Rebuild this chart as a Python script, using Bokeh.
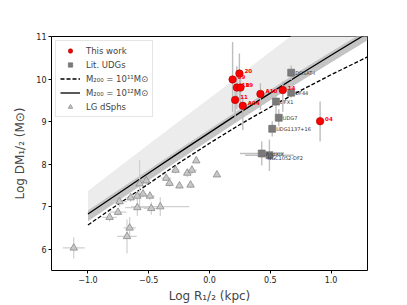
from bokeh.plotting import figure
from bokeh.models import (ColumnDataSource, Legend, LegendItem, FixedTicker,
                          CustomJSTickFormatter, Range1d)
from bokeh.core.properties import value
from bokeh.embed import file_html
from bokeh.resources import INLINE

# ---------------- data ----------------
curve_x = [-1.0, -0.75, -0.5, -0.25, 0.0, 0.25, 0.5, 0.75, 1.0, 1.3]
m12_y = [6.83, 7.31, 7.79, 8.27, 8.74, 9.21, 9.67, 10.12, 10.56, 11.08]
m11_y = [6.57, 7.06, 7.54, 8.03, 8.49, 8.93, 9.34, 9.73, 10.10, 10.52]
light_hi = [7.37, 7.92, 8.47, 9.01, 9.55, 10.09, 10.64, 11.18, 11.72, 12.37]
dark_lo = [6.66, 7.14, 7.62, 8.10, 8.57, 9.04, 9.50, 9.95, 10.39, 10.91]
dark_hi = [6.91, 7.39, 7.87, 8.35, 8.82, 9.29, 9.75, 10.20, 10.64, 11.16]

tw_names = ["20", "09", "10", "19", "11", "A04", "A10", "14", "04"]
tw_x = [0.246, 0.19, 0.225, 0.255, 0.211, 0.274, 0.419, 0.603, 0.91]
tw_y = [10.13, 9.99, 9.80, 9.80, 9.51, 9.37, 9.65, 9.74, 9.01]
tw_y_lo = [9.50, 9.22, 9.30, 9.40, 9.00, 8.80, 9.27, 9.23, 8.53]
tw_y_hi = [10.60, 10.87, 10.30, 10.20, 9.90, 9.58, 9.90, 9.94, 9.47]

udg_names = ["DGSAT-I", "DF44", "DFX1", "UDG7", "UDG1137+16", "AndXIX"]
udg_x = [0.672, 0.672, 0.547, 0.57, 0.516, 0.43]
udg_y = [10.15, 9.68, 9.47, 9.09, 8.83, 8.25]
udg_xerr = [0.02, 0.02, 0.02, 0.02, 0.02, 0.18]
udg_yerr = [0.17, 0.12, 0.30, 0.20, 0.18, 0.28]
df2_name = ["NGC1052-DF2"]
df2_x = [0.493]
df2_y = [8.21]
df2_xerr = [0.20]
df2_yerr = [0.37]

lg_x = [-0.109, -0.279, -0.183, -0.145, 0.061, -0.356, -0.329, -0.247, -0.156,
        -0.52, -0.575, -0.49, -0.547, -0.594, -0.649, -0.74, -0.594, -0.479,
        -0.405, -0.753, -0.822, -0.657, -0.679, -1.117]
lg_y = [8.08, 7.86, 7.79, 7.86, 7.75, 7.67, 7.55, 7.49, 7.51,
        7.61, 7.54, 7.25, 7.30, 7.25, 7.21, 7.12, 6.98, 6.96,
        7.00, 6.87, 6.75, 6.50, 6.30, 6.03]
lg_xerr = [0.02, 0.03, 0.03, 0.04, 0.02, 0.04, 0.03, 0.02, 0.03,
           0.03, 0.03, 0.04, 0.03, 0.05, 0.04, 0.06, 0.10, 0.06,
           0.24, 0.07, 0.06, 0.05, 0.08, 0.09]
lg_yerr = [0.06, 0.08, 0.10, 0.10, 0.05, 0.06, 0.08, 0.06, 0.06,
           0.10, 0.55, 0.10, 0.08, 0.10, 0.10, 0.12, 0.20, 0.15,
           0.22, 0.08, 0.10, 0.25, 0.40, 0.25]

x_ticks = [-1.0, -0.5, 0.0, 0.5, 1.0]
y_ticks = [6, 7, 8, 9, 10, 11]

FONT = "DejaVu Sans"

# ---------------- figure ----------------
p = figure(width=407, height=305, output_backend="svg", toolbar_location=None,
           x_range=Range1d(-1.3, 1.3), y_range=Range1d(5.5, 11.0),
           min_border_left=51, min_border_right=40, min_border_top=36,
           min_border_bottom=34)
p.xgrid.visible = False
p.ygrid.visible = False
p.outline_line_color = "black"
p.outline_line_width = 1
p.background_fill_color = "white"

# bands and model curves
p.varea(x=curve_x, y1=m12_y, y2=light_hi, fill_color="#ececec")
p.varea(x=curve_x, y1=dark_lo, y2=dark_hi, fill_color="#c4c4c4")
r_m11 = p.line(curve_x, m11_y, line_color="black", line_width=1.3, line_dash="4 2")
r_m12 = p.line(curve_x, m12_y, line_color="black", line_width=1.3)

# LG dSphs
lg_src = dict(x=lg_x, y=lg_y,
              x0=[a - b for a, b in zip(lg_x, lg_xerr)], x1=[a + b for a, b in zip(lg_x, lg_xerr)],
              y0=[a - b for a, b in zip(lg_y, lg_yerr)], y1=[a + b for a, b in zip(lg_y, lg_yerr)])
s = ColumnDataSource(lg_src)
p.segment(x0="x0", y0="y", x1="x1", y1="y", source=s, line_color="#cfcfcf", line_width=1.2)
p.segment(x0="x", y0="y0", x1="x", y1="y1", source=s, line_color="#cfcfcf", line_width=1.2)
r_lg = p.scatter("x", "y", source=s, marker="triangle", size=7.5,
                 fill_color="#c8c8c8", line_color="#8a8a8a", line_width=0.8)

# Lit UDGs
ux = udg_x + df2_x
uy = udg_y + df2_y
uxe = udg_xerr + df2_xerr
uye = udg_yerr + df2_yerr
us = ColumnDataSource(dict(x=ux, y=uy,
                           x0=[a - b for a, b in zip(ux, uxe)], x1=[a + b for a, b in zip(ux, uxe)],
                           y0=[a - b for a, b in zip(uy, uye)], y1=[a + b for a, b in zip(uy, uye)]))
p.segment(x0="x0", y0="y", x1="x1", y1="y", source=us, line_color="#c0c0c0", line_width=1.4)
p.segment(x0="x", y0="y0", x1="x", y1="y1", source=us, line_color="#c0c0c0", line_width=1.4)
r_udg = p.scatter("x", "y", source=us, marker="square", size=7,
                  fill_color="#7a7a7a", line_color="#6a6a6a", line_width=0.6)
p.text(x=udg_x, y=udg_y, text=udg_names, x_offset=4, y_offset=0,
       text_font=value(FONT), text_font_size="5px", text_color="#333333",
       text_baseline="middle", text_align="left")
p.text(x=df2_x, y=df2_y, text=df2_name, x_offset=-2, y_offset=3,
       text_font=value(FONT), text_font_size="5px", text_color="#333333",
       text_baseline="middle", text_align="left")

# This work
ts = ColumnDataSource(dict(x=tw_x, y=tw_y, lo=tw_y_lo, hi=tw_y_hi, n=tw_names))
p.segment(x0="x", y0="lo", x1="x", y1="hi", source=ts, line_color="#bdbdbd", line_width=1.4)
r_tw = p.scatter("x", "y", source=ts, marker="circle", size=7.5,
                 fill_color="#ff0000", line_color="#a00000", line_width=0.6)
p.text(x="x", y="y", text="n", source=ts, x_offset=5, y_offset=-3,
       text_font=value(FONT), text_font_size="5.5px", text_font_style="bold",
       text_color="#ff0000", text_baseline="middle", text_align="left")

# axes
for ax in (p.xaxis[0], p.yaxis[0]):
    ax.axis_line_color = None
    ax.major_tick_line_color = "black"
    ax.major_tick_out = 3
    ax.major_tick_in = 0
    ax.minor_tick_out = 0
    ax.minor_tick_in = 0
    ax.major_label_text_font = FONT
    ax.major_label_text_font_size = "8px"
    ax.major_label_text_color = "#222222"
    ax.axis_label_text_font = FONT
    ax.axis_label_text_font_size = "12px"
    ax.axis_label_text_font_style = "normal"
    ax.major_label_standoff = 2

p.xaxis.ticker = FixedTicker(ticks=x_ticks)
p.yaxis.ticker = FixedTicker(ticks=y_ticks)
p.xaxis.formatter = CustomJSTickFormatter(code="return tick.toFixed(1).replace('-', '\u2212');")
p.yaxis.formatter = CustomJSTickFormatter(code="return tick.toFixed(0);")
p.xaxis.axis_label = "Log R\u2081/\u2082 (kpc)"
p.yaxis.axis_label = "Log DM\u2081/\u2082 (M\u2299)"
p.xaxis.axis_label_standoff = 3
p.yaxis.axis_label_standoff = 6

# legend
legend = Legend(items=[
    LegendItem(label="This work", renderers=[r_tw]),
    LegendItem(label="Lit. UDGs", renderers=[r_udg]),
    LegendItem(label="M\u2082\u2080\u2080 = 10\u00b9\u00b9M\u2299", renderers=[r_m11]),
    LegendItem(label="M\u2082\u2080\u2080 = 10\u00b9\u00b2M\u2299", renderers=[r_m12]),
    LegendItem(label="LG dSphs", renderers=[r_lg]),
], location="top_left")
legend.label_text_font = FONT
legend.label_text_font_size = "8.5px"
legend.label_height = 11
legend.glyph_height = 11
legend.glyph_width = 20
legend.spacing = 3
legend.padding = 4
legend.margin = 4
legend.label_standoff = 6
legend.border_line_color = "#cccccc"
legend.border_line_width = 1
legend.background_fill_alpha = 0.85
p.add_layout(legend)

open("out.html", "w").write(file_html(p, INLINE))
